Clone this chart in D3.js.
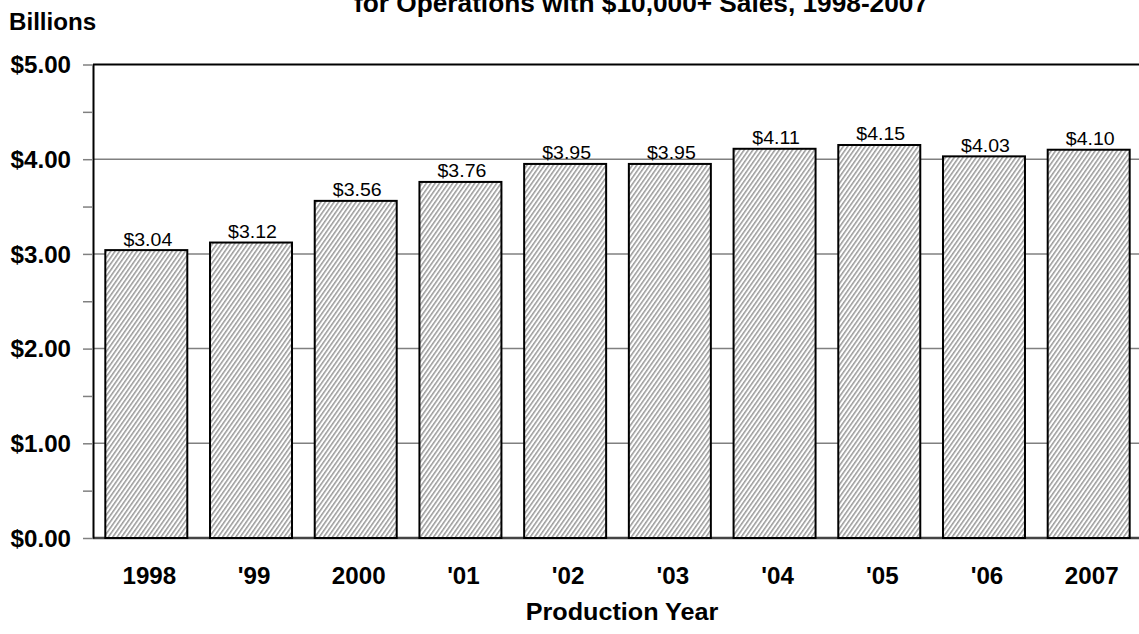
<!DOCTYPE html>
<html>
<head>
<meta charset="utf-8">
<script src="https://cdn.jsdelivr.net/npm/d3@7"></script>
<style>
  html, body { margin: 0; padding: 0; background: #fff; }
  svg { display: block; font-family: "Liberation Sans", Arial, sans-serif; }
</style>
</head>
<body>
<svg id="chart" width="1139" height="634"></svg>
<script>
const categories = ["1998", "'99", "2000", "'01", "'02", "'03", "'04", "'05", "'06", "2007"];
const values = [3.04, 3.12, 3.56, 3.76, 3.95, 3.95, 4.11, 4.15, 4.03, 4.10];
const valueLabels = ["$3.04", "$3.12", "$3.56", "$3.76", "$3.95", "$3.95", "$4.11", "$4.15", "$4.03", "$4.10"];
const yTicks = [0, 1, 2, 3, 4, 5];
const yTickLabels = ["$0.00", "$1.00", "$2.00", "$3.00", "$4.00", "$5.00"];
const yMinorTicks = [0.5, 1.5, 2.5, 3.5, 4.5];
const titleText = "for Operations with $10,000+ Sales, 1998-2007";
const yUnitText = "Billions";
const xTitleText = "Production Year";

(function () {
const SX = 1.05; // horizontal text stretch
const svg = d3.select("#chart");
const pLeft = 93, pRight = 1141, pTop = 64.5, pBottom = 538;

const x = d3.scaleBand().domain(categories).range([pLeft + 1, pRight]).paddingInner(0.217).paddingOuter(0.108);
const y = d3.scaleLinear().domain([0, 5]).range([pBottom, pTop]);

// pattern
const defs = svg.append("defs");
const pat = defs.append("pattern")
  .attr("id", "hatch")
  .attr("patternUnits", "userSpaceOnUse")
  .attr("width", 3.6).attr("height", 10)
  .attr("patternTransform", "rotate(35)");
pat.append("rect").attr("width", 3.6).attr("height", 10).attr("fill", "#ffffff");
pat.append("line").attr("x1", 0.8).attr("x2", 0.8).attr("y1", 0).attr("y2", 10)
  .attr("stroke", "#7a7a7a").attr("stroke-width", 1.15);

// gridlines
svg.append("g").selectAll("line").data(yTicks.filter(d => d > 0 && d < 5)).join("line")
  .attr("x1", pLeft).attr("x2", 1139)
  .attr("y1", d => y(d)).attr("y2", d => y(d))
  .attr("stroke", "#808080").attr("stroke-width", 1.5);

// top frame line
svg.append("line").attr("x1", pLeft).attr("x2", 1139).attr("y1", y(5)).attr("y2", y(5))
  .attr("stroke", "#000").attr("stroke-width", 2);

// baseline
svg.append("line").attr("x1", pLeft).attr("x2", 1139).attr("y1", y(0)).attr("y2", y(0))
  .attr("stroke", "#444").attr("stroke-width", 2.5);

// bars
svg.append("g").selectAll("rect").data(values).join("rect")
  .attr("x", (d, i) => x(categories[i]))
  .attr("y", d => y(d))
  .attr("width", x.bandwidth())
  .attr("height", d => y(0) - y(d))
  .attr("fill", "url(#hatch)")
  .attr("stroke", "#000").attr("stroke-width", 2);

// value labels
svg.append("g").selectAll("text").data(values).join("text")
  .attr("transform", (d, i) => `translate(${x(categories[i]) + x.bandwidth() / 2 + 1.5},${y(d) - 4.5}) scale(${SX},1)`)
  .attr("text-anchor", "middle")
  .attr("font-size", "18.6px")
  .attr("fill", "#000")
  .text((d, i) => valueLabels[i]);

// y axis major
const yAxis = d3.axisLeft(y).tickValues(yTicks).tickSize(10).tickSizeOuter(0)
  .tickFormat((d, i) => yTickLabels[i]);
const gy = svg.append("g").attr("transform", `translate(${pLeft},0)`).call(yAxis);
gy.select(".domain").attr("stroke", "#000").attr("stroke-width", 2);
gy.selectAll(".tick line").attr("stroke", "#808080").attr("stroke-width", 1.5);
gy.selectAll(".tick text")
  .attr("x", -22 / SX).attr("dy", "0.36em")
  .attr("transform", `scale(${SX},1)`)
  .attr("font-size", "23px").attr("font-weight", "bold").attr("fill", "#000");

// y axis minor
const yMinor = d3.axisLeft(y).tickValues(yMinorTicks).tickSize(10).tickSizeOuter(0).tickFormat("");
const gym = svg.append("g").attr("transform", `translate(${pLeft},0)`).call(yMinor);
gym.select(".domain").remove();
gym.selectAll(".tick line").attr("stroke", "#808080").attr("stroke-width", 1.5);

// x axis
const xAxis = d3.axisBottom(x).tickSize(0);
const gx = svg.append("g").attr("transform", `translate(3,${pBottom})`).call(xAxis);
gx.select(".domain").remove();
gx.selectAll(".tick text")
  .attr("y", 46).attr("dy", 0).attr("x", 0)
  .attr("transform", `scale(${SX},1)`)
  .attr("font-size", "23px").attr("font-weight", "bold").attr("fill", "#000");

// titles
svg.append("text")
  .attr("transform", `translate(641,12) scale(${SX},1)`)
  .attr("text-anchor", "middle")
  .attr("font-size", "25px").attr("font-weight", "bold").attr("fill", "#000")
  .text(titleText);

svg.append("text")
  .attr("transform", `translate(9,30) scale(${SX},1)`)
  .attr("font-size", "23px").attr("font-weight", "bold").attr("fill", "#000")
  .text(yUnitText);

svg.append("text")
  .attr("transform", `translate(622,620) scale(${SX},1)`)
  .attr("text-anchor", "middle")
  .attr("font-size", "24px").attr("font-weight", "bold").attr("fill", "#000")
  .text(xTitleText);
})();
</script>
</body>
</html>
